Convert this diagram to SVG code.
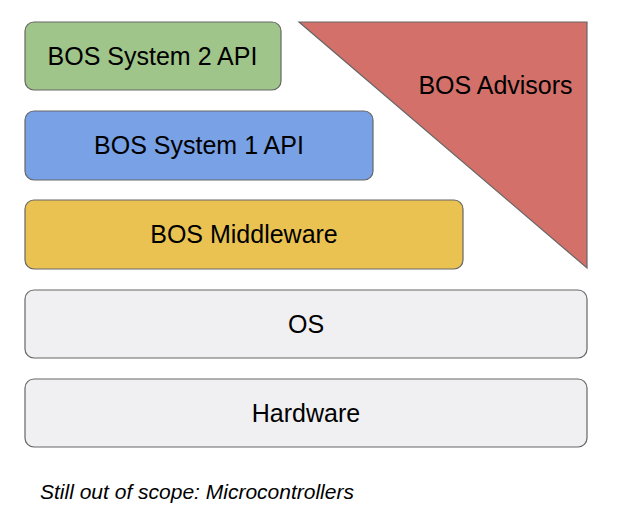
<svg xmlns="http://www.w3.org/2000/svg" width="632" height="509" viewBox="0 0 632 509">
<style>
.box{stroke:#666;stroke-width:1.2}
.t{font-family:"Liberation Sans",Arial,sans-serif;font-size:25px;fill:#000;text-anchor:middle}
.cap{font-family:"Liberation Sans",Arial,sans-serif;font-size:21px;font-style:italic;fill:#000}
</style>
<rect width="632" height="509" fill="#fff"/>
<g id="advisors">
<polygon class="box" points="299,22 587,22 587,268" fill="#d4706a"/>
<text class="t" x="495.5" y="94">BOS Advisors</text>
</g>
<g id="system2">
<rect class="box" x="25" y="22" width="256" height="68" rx="9" fill="#9fc58a"/>
<text class="t" x="152.5" y="65">BOS System 2 API</text>
</g>
<g id="system1">
<rect class="box" x="25" y="111" width="348" height="69" rx="9" fill="#78a1e6"/>
<text class="t" x="199" y="154">BOS System 1 API</text>
</g>
<g id="middleware">
<rect class="box" x="25" y="200" width="438" height="69" rx="9" fill="#eac252"/>
<text class="t" x="244" y="243">BOS Middleware</text>
</g>
<g id="os">
<rect class="box" x="25" y="290" width="562" height="68" rx="9" fill="#f0eff2"/>
<text class="t" x="306" y="333">OS</text>
</g>
<g id="hardware">
<rect class="box" x="25" y="379" width="562" height="68" rx="9" fill="#f0eff2"/>
<text class="t" x="306" y="422">Hardware</text>
</g>
<g id="connectors"/>
<text class="cap" x="40" y="499">Still out of scope: Microcontrollers</text>
</svg>
